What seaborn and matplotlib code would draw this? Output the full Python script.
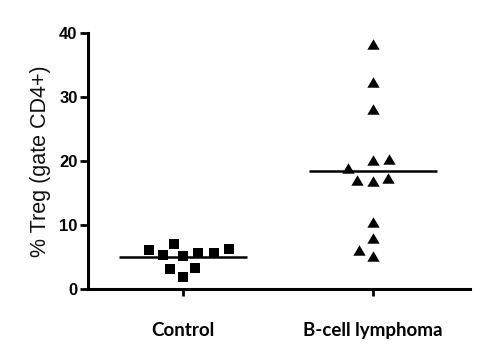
import matplotlib
matplotlib.use("Agg")
import matplotlib.pyplot as plt
from matplotlib.path import Path
from matplotlib.markers import MarkerStyle
import seaborn as sns
import pandas as pd

categories = ["Control", "B-cell lymphoma"]
control_values = [6.1, 5.6, 5.3, 5.2, 5.6, 6.2, 7.1, 3.3, 3.2, 1.8]
lymphoma_values = [38.3, 32.4, 28.1, 20.3, 20.2, 18.9, 17.4, 16.8, 17.0, 10.5, 7.9, 6.1, 5.2]
y_ticks = [0, 10, 20, 30, 40]
y_label = "% Treg (gate CD4+)"

df = pd.DataFrame({
    "group": [categories[0]] * len(control_values) + [categories[1]] * len(lymphoma_values),
    "value": control_values + lymphoma_values,
})


def padded_marker(verts, pad):
    # marker shape with an invisible padding point so that the swarm leaves gaps
    codes = [Path.MOVETO, Path.MOVETO] + [Path.LINETO] * (len(verts) - 1) + [Path.CLOSEPOLY]
    v = [(pad, pad)] + list(verts) + [(0, 0)]
    return MarkerStyle(Path(v, codes))


square = padded_marker([(-1, -1), (1, -1), (1, 1), (-1, 1)], 1.45)
triangle = padded_marker([(0, 0.85), (-1, -0.85), (1, -0.85)], 1.22)

sns.set_theme(style="ticks")
fig = plt.figure(figsize=(5, 3.61), dpi=100)
ax = fig.add_axes([0.176, 0.1994, 0.764, 0.7092])

sns.swarmplot(data=df[df.group == categories[0]], x="group", y="value", order=categories,
              marker=square, size=10.8, color="black", linewidth=0, ax=ax)
sns.swarmplot(data=df[df.group == categories[1]], x="group", y="value", order=categories,
              marker=triangle, size=10.8, color="black", linewidth=0, ax=ax)

sns.pointplot(data=df, x="group", y="value", order=categories, estimator="mean",
              errorbar=None, color="black", marker="_", markersize=92,
              markeredgewidth=1.8, linestyle="none", ax=ax)

ax.set_xlim(-0.5, 1.51)
ax.set_ylim(0, 40)
ax.set_yticks(y_ticks)
ax.set_xlabel("")
ax.set_ylabel(y_label, fontsize=15.5, family="Liberation Sans", labelpad=6, color="#111111")
sns.despine(ax=ax)
for sp in ["left", "bottom"]:
    ax.spines[sp].set_linewidth(2.2)
    ax.spines[sp].set_color("black")
ax.tick_params(axis="y", length=6, width=2, pad=1.5, colors="black")
ax.tick_params(axis="x", length=5, width=2, pad=19, colors="black")
for lab in ax.get_yticklabels():
    lab.set_fontfamily("Liberation Sans")
    lab.set_fontweight("bold")
    lab.set_fontsize(12)
for lab in ax.get_xticklabels():
    lab.set_fontfamily("Lato")
    lab.set_fontweight("bold")
    lab.set_fontsize(13.5)

fig.savefig("out.png", dpi=100)
